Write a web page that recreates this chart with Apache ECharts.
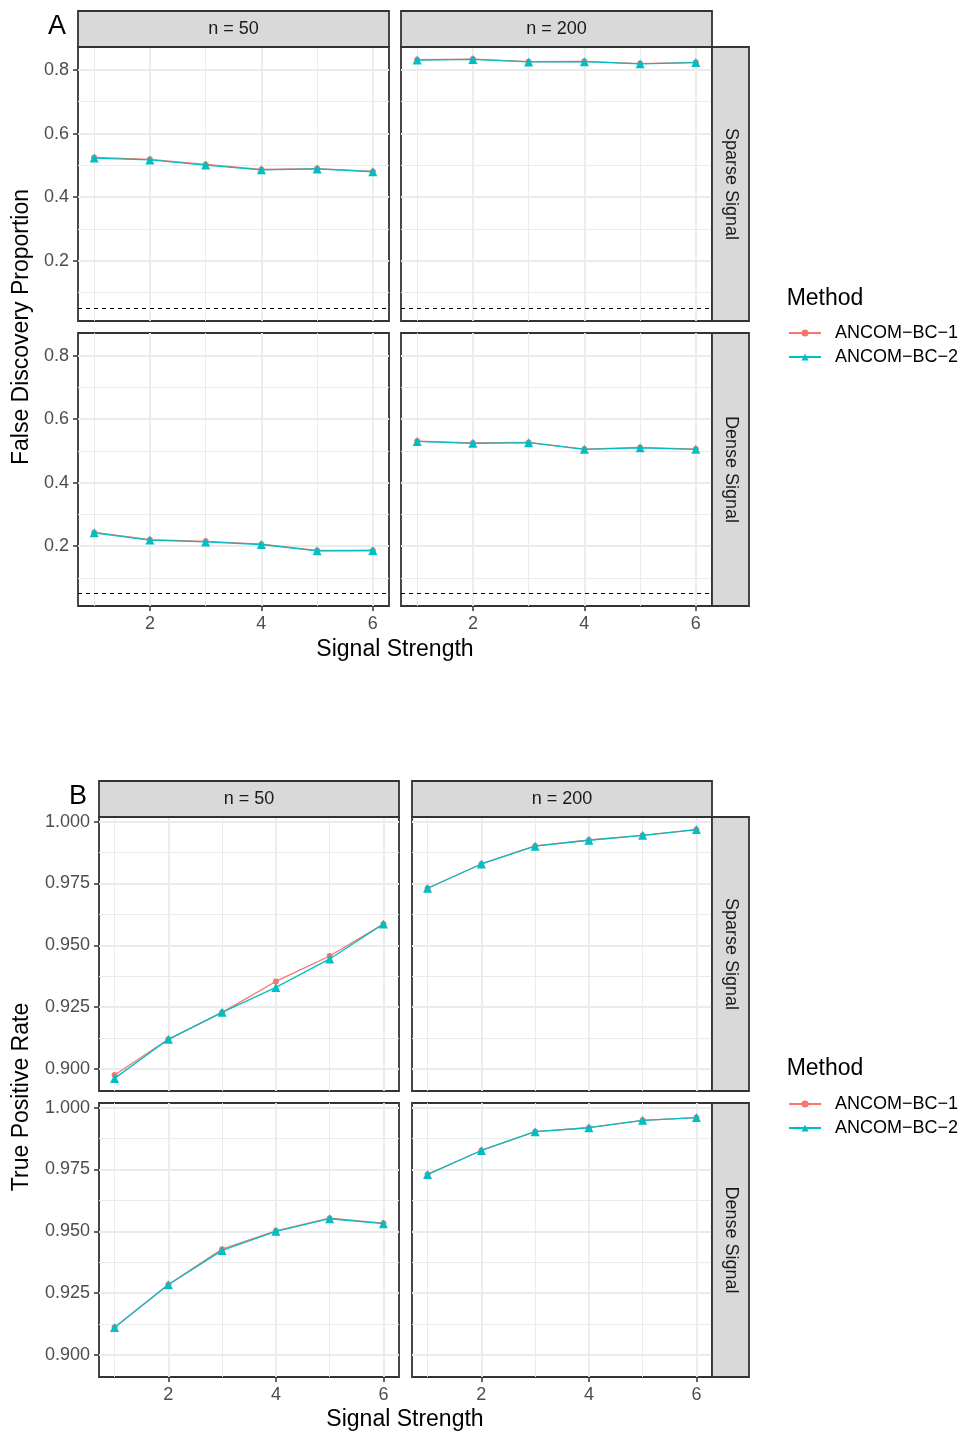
<!DOCTYPE html>
<html>
<head>
<meta charset="utf-8">
<script src="https://cdn.jsdelivr.net/npm/echarts@6/dist/echarts.min.js"></script>
<style>
  html, body { margin: 0; padding: 0; background: #ffffff; }
  #chart { width: 966px; height: 1435px; }
</style>
</head>
<body>
<div id="chart"></div>
<script>
// ---- data -------------------------------------------------------------
const strength = [1, 2, 3, 4, 5, 6];
const methods = ['ANCOM−BC−1', 'ANCOM−BC−2'];
const sampleSizes = ['n = 50', 'n = 200'];
const signalTypes = ['Sparse Signal', 'Dense Signal'];
const fdrLevel = 0.05;

// False discovery proportion
const fdpN50SparseBC1  = [0.525, 0.519, 0.503, 0.487, 0.490, 0.481];
const fdpN50SparseBC2  = [0.523, 0.517, 0.501, 0.486, 0.489, 0.480];
const fdpN200SparseBC1 = [0.832, 0.834, 0.826, 0.827, 0.820, 0.824];
const fdpN200SparseBC2 = [0.831, 0.833, 0.825, 0.826, 0.819, 0.823];
const fdpN50DenseBC1   = [0.243, 0.220, 0.215, 0.206, 0.186, 0.186];
const fdpN50DenseBC2   = [0.242, 0.219, 0.213, 0.205, 0.185, 0.186];
const fdpN200DenseBC1  = [0.531, 0.525, 0.527, 0.506, 0.511, 0.506];
const fdpN200DenseBC2  = [0.530, 0.524, 0.526, 0.505, 0.510, 0.505];

// True positive rate
const tprN50SparseBC1  = [0.8976, 0.9120, 0.9229, 0.9354, 0.9457, 0.9586];
const tprN50SparseBC2  = [0.8962, 0.9120, 0.9229, 0.9330, 0.9445, 0.9586];
const tprN200SparseBC1 = [0.9731, 0.9829, 0.9902, 0.9926, 0.9945, 0.9968];
const tprN200SparseBC2 = [0.9731, 0.9829, 0.9901, 0.9925, 0.9945, 0.9968];
const tprN50DenseBC1   = [0.9112, 0.9285, 0.9428, 0.9502, 0.9553, 0.9533];
const tprN50DenseBC2   = [0.9111, 0.9284, 0.9423, 0.9500, 0.9551, 0.9531];
const tprN200DenseBC1  = [0.9730, 0.9827, 0.9903, 0.9919, 0.9949, 0.9960];
const tprN200DenseBC2  = [0.9730, 0.9827, 0.9903, 0.9919, 0.9949, 0.9960];

// tick values
const xTicks = [2, 4, 6];
const xMinor = [1, 3, 5];
const fdpTicks = [0.2, 0.4, 0.6, 0.8];
const fdpMinor = [0.1, 0.3, 0.5, 0.7];
const tprTicks = [0.900, 0.925, 0.950, 0.975, 1.000];
const tprMinor = [0.9125, 0.9375, 0.9625, 0.9875];

// ---- styling ----------------------------------------------------------
const FONT = '"Liberation Sans", Arial, Helvetica, sans-serif';
const COLORS = ['#F8766D', '#00BFC4'];
const SYMBOLS = ['circle', 'triangle'];
const SYMBOL_SIZES = [6, 9];
const GRID_MAJOR = '#EBEBEB';
const BORDER = '#333333';
const X_RANGE = [0.71, 6.29];

const grids = [], xAxes = [], yAxes = [], series = [], graphics = [];

function addFacet(f) {
  const g = grids.length;
  grids.push({
    left: f.left, top: f.top, width: f.width, height: f.height,
    show: true, borderColor: BORDER, borderWidth: 1.8, backgroundColor: '#fff'
  });
  const showX = f.bottomRow, showY = f.leftCol;
  // major x axis
  xAxes.push({
    type: 'value', gridIndex: g, min: X_RANGE[0], max: X_RANGE[1],
    position: 'bottom',
    axisLine: { show: false },
    axisTick: { show: showX, customValues: xTicks, length: 5, lineStyle: { color: BORDER, width: 1.5 } },
    axisLabel: { show: showX, customValues: xTicks, margin: 9, fontSize: 18, color: '#4D4D4D', fontFamily: FONT },
    splitLine: { show: true, lineStyle: { color: GRID_MAJOR, width: 1.8 } }
  });
  // minor x grid
  xAxes.push({
    type: 'value', gridIndex: g, min: X_RANGE[0], max: X_RANGE[1],
    position: 'top',
    axisLine: { show: false },
    axisTick: { show: false, customValues: xMinor },
    axisLabel: { show: false, customValues: xMinor },
    splitLine: { show: true, lineStyle: { color: GRID_MAJOR, width: 1 } }
  });
  // major y axis
  yAxes.push({
    type: 'value', gridIndex: g, min: f.yRange[0], max: f.yRange[1],
    position: 'left',
    axisLine: { show: false },
    axisTick: { show: showY, customValues: f.yTicks, length: 5, lineStyle: { color: BORDER, width: 1.5 } },
    axisLabel: {
      show: showY, customValues: f.yTicks, margin: 9, fontSize: 18, color: '#4D4D4D', fontFamily: FONT,
      formatter: v => v.toFixed(f.decimals)
    },
    splitLine: { show: true, lineStyle: { color: GRID_MAJOR, width: 1.8 } }
  });
  // minor y grid
  yAxes.push({
    type: 'value', gridIndex: g, min: f.yRange[0], max: f.yRange[1],
    position: 'right',
    axisLine: { show: false },
    axisTick: { show: false, customValues: f.yMinor },
    axisLabel: { show: false, customValues: f.yMinor },
    splitLine: { show: true, lineStyle: { color: GRID_MAJOR, width: 1 } }
  });
  const xi = 2 * g, yi = 2 * g;
  f.values.forEach((vals, m) => {
    const s = {
      name: methods[m], type: 'line', xAxisIndex: xi, yAxisIndex: yi,
      data: strength.map((x, i) => [x, vals[i]]),
      symbol: SYMBOLS[m], symbolSize: SYMBOL_SIZES[m], showSymbol: true,
      lineStyle: { color: COLORS[m], width: 1.3 },
      itemStyle: { color: COLORS[m] },
      z: 3 + m, silent: true
    };
    if (m === 0 && f.refLine !== undefined) {
      s.markLine = {
        silent: true, symbol: ['none', 'none'], label: { show: false },
        lineStyle: { color: '#000', width: 1.2, type: [4, 4] },
        data: [{ yAxis: f.refLine }]
      };
    }
    series.push(s);
  });
}

function strip(x, y, w, h, text, vertical) {
  graphics.push({
    type: 'rect', shape: { x: x, y: y, width: w, height: h },
    style: { fill: '#D9D9D9', stroke: BORDER, lineWidth: 1.8 }, z: 10
  });
  graphics.push({
    type: 'text', x: x + w / 2, y: y + h / 2, rotation: vertical ? -Math.PI / 2 : 0,
    style: { text: text, fill: '#1A1A1A', font: '18px ' + FONT, align: 'center', verticalAlign: 'middle' }, z: 11
  });
}

function label(x, y, text, size, rot) {
  graphics.push({
    type: 'text', x: x, y: y, rotation: rot || 0,
    style: { text: text, fill: '#000', font: size + 'px ' + FONT, align: 'center', verticalAlign: 'middle' }, z: 11
  });
}

// ---- panel A: false discovery proportion ----------------------------------
const A = { cols: [78, 401], width: 311, rows: [47, 333], heights: [274, 273], yRange: [0.011, 0.872] };
const fdpValues = [
  [[fdpN50SparseBC1, fdpN50SparseBC2], [fdpN200SparseBC1, fdpN200SparseBC2]],
  [[fdpN50DenseBC1, fdpN50DenseBC2], [fdpN200DenseBC1, fdpN200DenseBC2]]
];
for (let r = 0; r < 2; r++) for (let c = 0; c < 2; c++) {
  addFacet({
    left: A.cols[c], top: A.rows[r], width: A.width, height: A.heights[r],
    yRange: A.yRange, yTicks: fdpTicks, yMinor: fdpMinor, decimals: 1,
    leftCol: c === 0, bottomRow: r === 1, values: fdpValues[r][c], refLine: fdrLevel
  });
}
for (let c = 0; c < 2; c++) strip(A.cols[c], 11, A.width, 36, sampleSizes[c], false);
for (let r = 0; r < 2; r++) strip(712, A.rows[r], 37, A.heights[r], signalTypes[r], true);
label(57, 27, 'A', 27);
label(22, 327, 'False Discovery Proportion', 23, Math.PI / 2);
label(395, 650, 'Signal Strength', 23);
label(825, 299, 'Method', 23);

// ---- panel B: true positive rate ------------------------------------------
const B = { cols: [99, 412], width: 300, rows: [817, 1103], heights: [274, 274], yRange: [0.8911, 1.0019] };
const tprValues = [
  [[tprN50SparseBC1, tprN50SparseBC2], [tprN200SparseBC1, tprN200SparseBC2]],
  [[tprN50DenseBC1, tprN50DenseBC2], [tprN200DenseBC1, tprN200DenseBC2]]
];
for (let r = 0; r < 2; r++) for (let c = 0; c < 2; c++) {
  addFacet({
    left: B.cols[c], top: B.rows[r], width: B.width, height: B.heights[r],
    yRange: B.yRange, yTicks: tprTicks, yMinor: tprMinor, decimals: 3,
    leftCol: c === 0, bottomRow: r === 1, values: tprValues[r][c]
  });
}
for (let c = 0; c < 2; c++) strip(B.cols[c], 781, B.width, 36, sampleSizes[c], false);
for (let r = 0; r < 2; r++) strip(712, B.rows[r], 37, B.heights[r], signalTypes[r], true);
label(78, 797, 'B', 27);
label(22, 1097, 'True Positive Rate', 23, Math.PI / 2);
label(405, 1420, 'Signal Strength', 23);
label(825, 1069, 'Method', 23);

function legendAt(top) {
  return {
    data: methods, orient: 'vertical', left: 788, top: top, padding: 0,
    itemWidth: 32, itemHeight: 9, itemGap: 6, selectedMode: false,
    textStyle: { fontSize: 18, color: '#000', fontFamily: FONT, padding: [0, 0, 0, 9] }
  };
}

const chart = echarts.init(document.getElementById('chart'), null, { renderer: 'canvas' });
chart.setOption({
  animation: false,
  backgroundColor: '#ffffff',
  grid: grids,
  xAxis: xAxes,
  yAxis: yAxes,
  series: series,
  legend: [legendAt(324), legendAt(1095)],
  graphic: { elements: graphics }
});
</script>
</body>
</html>
